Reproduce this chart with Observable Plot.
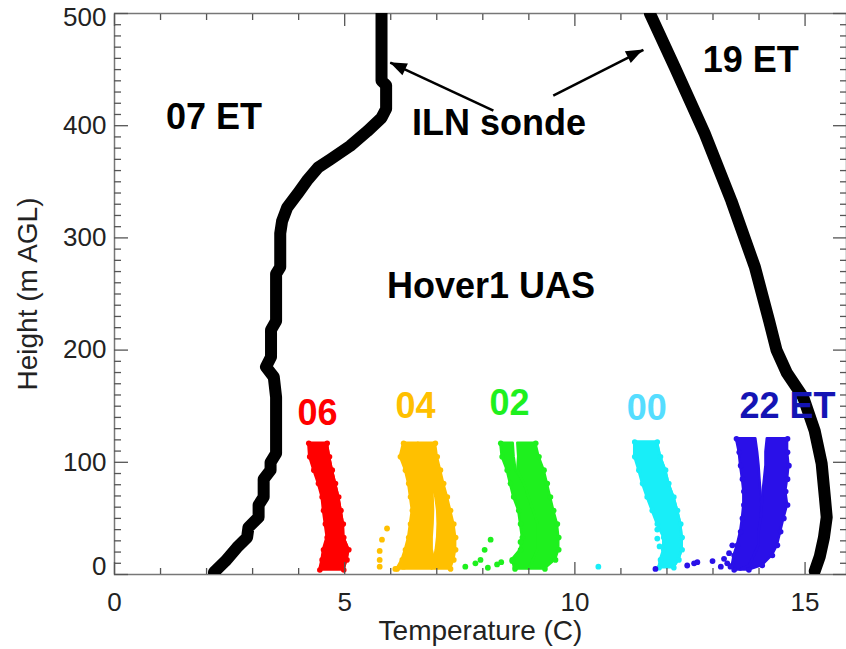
<!DOCTYPE html>
<html>
<head>
<meta charset="utf-8">
<script src="https://cdn.jsdelivr.net/npm/d3@7"></script>
<script src="https://cdn.jsdelivr.net/npm/@observablehq/plot@0.6"></script>
<style>
  body { margin: 0; background: #fff; }
  #chart svg { display: block; }
</style>
</head>
<body>
<div id="chart"></div>
<script>
// ---------- ILN sonde profiles: [height (m AGL), temperature (C)] ----------
const sonde07 = [
  [500, 5.80], [440, 5.80], [436, 5.90], [415, 5.90], [407, 5.80], [395, 5.49],
  [382, 5.12], [370, 4.69], [363, 4.43], [351, 4.18], [339, 3.97], [327, 3.75],
  [315, 3.64], [304, 3.60], [274, 3.60], [268, 3.51], [226, 3.51], [218, 3.40],
  [194, 3.40], [185, 3.29], [176, 3.46], [158, 3.51], [108, 3.51], [100, 3.39],
  [93, 3.39], [85, 3.24], [69, 3.24], [62, 3.13], [51, 3.13], [42, 2.91],
  [33, 2.88], [24, 2.66], [12, 2.41], [2, 2.16]
];
const sonde19 = [
  [500, 11.63], [452, 12.17], [393, 12.82], [333, 13.40], [274, 13.91],
  [226, 14.22], [200, 14.38], [180, 14.60], [158, 14.96], [128, 15.21], [99, 15.36],
  [69, 15.43], [51, 15.47], [33, 15.41], [16, 15.32], [3, 15.21]
];

// ---------- Hover1 UAS point clouds, outline per height ----------
// [height, left edge T, right edge T]  or  [height, left, gapLeft, gapRight, right]
const uas06 = [
  [117, 4.22, 4.62], [105, 4.24, 4.67], [93, 4.33, 4.73], [81, 4.43, 4.80],
  [69, 4.51, 4.87], [57, 4.54, 4.92], [45, 4.58, 4.97], [33, 4.62, 4.98],
  [22, 4.54, 5.09], [13, 4.51, 5.05], [4, 4.46, 4.98]
];
const uas04 = [
  [117, 6.28, 6.60, 6.60, 6.97], [105, 6.21, 6.60, 6.60, 7.01], [93, 6.32, 6.70, 6.70, 7.08],
  [81, 6.39, 6.90, 6.90, 7.15], [69, 6.43, 6.92, 6.98, 7.23], [57, 6.47, 6.93, 7.02, 7.30],
  [45, 6.43, 6.92, 7.03, 7.37], [33, 6.39, 6.90, 7.02, 7.41], [22, 6.32, 6.90, 6.99, 7.41],
  [13, 6.25, 6.95, 6.95, 7.37], [5, 6.14, 6.90, 6.90, 7.30]
];
const uas02 = [
  [117, 8.39, 8.66, 8.76, 9.15], [105, 8.42, 8.68, 8.78, 9.22], [93, 8.53, 8.72, 8.76, 9.33],
  [81, 8.60, 8.90, 8.90, 9.40], [69, 8.67, 9.00, 9.00, 9.47], [57, 8.78, 9.10, 9.10, 9.54],
  [45, 8.82, 9.20, 9.20, 9.62], [33, 8.86, 9.20, 9.20, 9.65], [22, 8.82, 9.20, 9.20, 9.65],
  [13, 8.64, 9.10, 9.10, 9.58], [5, 8.70, 9.00, 9.00, 9.35]
];
const uas00 = [
  [118, 11.30, 11.79], [105, 11.30, 11.86], [93, 11.39, 11.97], [81, 11.47, 12.04],
  [69, 11.57, 12.15], [57, 11.68, 12.23], [45, 11.79, 12.30], [33, 11.93, 12.33],
  [22, 11.93, 12.33], [13, 11.86, 12.26], [6, 11.83, 12.15]
];
const uas22 = [
  [121, 13.51, 13.93, 14.18, 14.62], [109, 13.57, 13.97, 14.15, 14.62], [97, 13.60, 14.00, 14.15, 14.65],
  [85, 13.64, 14.02, 14.12, 14.62], [74, 13.67, 14.04, 14.09, 14.58], [62, 13.67, 14.06, 14.07, 14.62],
  [50, 13.64, 14.05, 14.05, 14.54], [38, 13.60, 14.00, 14.00, 14.47], [26, 13.53, 14.00, 14.00, 14.40],
  [17, 13.46, 13.90, 13.90, 14.29], [8, 13.42, 13.80, 13.80, 14.07], [4, 13.46, 13.60, 13.60, 13.78]
];

// ---------- isolated UAS points: [temperature, height] ----------
const loose04 = [[5.92, 41], [5.81, 31], [5.76, 21], [5.76, 13], [5.76, 7], [6.10, 5], [6.28, 7]];
const loose02 = [[7.62, 7], [7.84, 10], [7.95, 13], [8.11, 6], [8.04, 22], [8.17, 31], [8.31, 9],
                 [8.40, 11], [8.64, 12], [8.82, 29], [8.71, 7]];
const loose00 = [[10.51, 7], [11.79, 40], [11.79, 32], [11.84, 25]];
const loose22 = [[11.75, 5], [12.44, 8], [12.59, 10], [12.66, 11], [12.99, 12], [13.17, 7],
                 [13.24, 14], [13.31, 10], [13.38, 7], [13.42, 26], [13.35, 19]];

// ---------- flight labels and colours ----------
const flightNames = ["06", "04", "02", "00", "22 ET"];
const flightDots = ["#ff0000", "#ffc000", "#1ef01e", "#18eef8", "#2a10e8"];
const flightText = ["#ff0000", "#ffc000", "#1ef01e", "#55ddff", "#1414b4"];

// ---------- ticks ----------
const xMajor = [0, 5, 10, 15];
const xMinor = [1, 2, 3, 4, 6, 7, 8, 9, 11, 12, 13, 14];
const yMajor = [0, 100, 200, 300, 400, 500];
const yMinor = [10, 20, 30, 40, 50, 60, 70, 80, 90, 110, 120, 130, 140, 150, 160, 170, 180, 190,
                210, 220, 230, 240, 250, 260, 270, 280, 290, 310, 320, 330, 340, 350, 360, 370, 380, 390,
                410, 420, 430, 440, 450, 460, 470, 480, 490];

// ---------- annotations (data coordinates) ----------
const notes = [
  {text: "07 ET", t: 2.16, z: 407.6, fill: "#000"},
  {text: "ILN sonde", t: 8.35, z: 401.8, fill: "#000"},
  {text: "19 ET", t: 13.82, z: 458.4, fill: "#000"},
  {text: "Hover1 UAS", t: 8.18, z: 256.5, fill: "#000"}
];
const flightLabelPos = [[4.41, 143.8], [6.54, 150.0], [8.58, 152.7], [11.56, 148.3], [14.62, 150.0]];
const arrows = [
  {t1: 8.23, z1: 413.4, t2: 5.99, z2: 456.2},
  {t1: 9.53, z1: 426.8, t2: 11.49, z2: 467.5}
];

// ---------- build ----------
const toRow = r => r.length === 3
  ? {z: r[0], lo: r[1], gL: r[2], gR: r[2], hi: r[2]}
  : {z: r[0], lo: r[1], gL: r[2], gR: r[3], hi: r[4]};
const clouds = [uas06, uas04, uas02, uas00, uas22].map(c => c.map(toRow));
const looses = [[], loose04, loose02, loose00, loose22];

const tickColor = "#555";
const marks = [];

marks.push(Plot.frame({stroke: "#777", strokeWidth: 1.5}));

// sonde profiles
for (const s of [sonde07, sonde19]) {
  marks.push(Plot.line(s, {x: d => d[1], y: d => d[0], stroke: "#000", strokeWidth: 12,
    strokeLinejoin: "round", strokeLinecap: "round", clip: true}));
}

// UAS clouds
clouds.forEach((rows, i) => {
  const c = flightDots[i];
  marks.push(Plot.areaX(rows, {y: "z", x1: "lo", x2: "gL", fill: c, stroke: c, strokeWidth: 2.5, strokeLinejoin: "round"}));
  marks.push(Plot.areaX(rows, {y: "z", x1: "gR", x2: "hi", fill: c, stroke: c, strokeWidth: 2.5, strokeLinejoin: "round"}));
  marks.push(Plot.dot(rows, {x: "lo", y: "z", r: 2.8, fill: c}));
  marks.push(Plot.dot(rows, {x: "hi", y: "z", r: 2.8, fill: c}));
  marks.push(Plot.dot(looses[i], {x: d => d[0], y: d => d[1], r: 2.9, fill: c}));
});

// annotations
marks.push(Plot.text(notes, {x: "t", y: "z", text: "text", fill: "fill", fontSize: 36, fontWeight: "bold"}));
marks.push(Plot.text(flightNames, {
  x: (d, i) => flightLabelPos[i][0], y: (d, i) => flightLabelPos[i][1], text: d => d,
  fill: (d, i) => flightText[i], fontSize: 36, fontWeight: "bold"
}));

// arrows: shaft + filled head placed through the scales
const headLen = 17, headHalf = 6.5;
marks.push(Plot.link(arrows, {x1: "t1", y1: "z1", x2: "t2", y2: "z2", stroke: "#000", strokeWidth: 2.5}));
marks.push((index, scales) => {
  const g = d3.create("svg:g");
  for (const a of arrows) {
    const X1 = scales.x(a.t1), Y1 = scales.y(a.z1), X2 = scales.x(a.t2), Y2 = scales.y(a.z2);
    const L = Math.hypot(X2 - X1, Y2 - Y1), ux = (X2 - X1) / L, uy = (Y2 - Y1) / L;
    const bx = X2 - ux * headLen, by = Y2 - uy * headLen;
    g.append("path")
      .attr("d", `M${X2},${Y2}L${bx - uy * headHalf},${by + ux * headHalf}L${bx + uy * headHalf},${by - ux * headHalf}Z`)
      .attr("fill", "#000");
  }
  return g.node();
});

// inward ticks
const tk = {fill: "none", label: null, stroke: tickColor, strokeWidth: 1.3};
marks.push(Plot.axisX({...tk, ticks: xMajor, anchor: "bottom", tickSize: -12}));
marks.push(Plot.axisX({...tk, ticks: xMinor, anchor: "bottom", tickSize: -6}));
marks.push(Plot.axisX({...tk, ticks: xMajor, anchor: "top", tickSize: -12}));
marks.push(Plot.axisX({...tk, ticks: xMinor, anchor: "top", tickSize: -6}));
marks.push(Plot.axisY({...tk, ticks: yMajor, anchor: "left", tickSize: -14}));
marks.push(Plot.axisY({...tk, ticks: yMinor, anchor: "left", tickSize: -7}));
marks.push(Plot.axisY({...tk, ticks: yMajor, anchor: "right", tickSize: -14}));
marks.push(Plot.axisY({...tk, ticks: yMinor, anchor: "right", tickSize: -7}));

// tick labels
const lab = {label: null, tickSize: 0, fontSize: 26, fill: "#222"};
marks.push(Plot.axisX({...lab, ticks: xMajor, anchor: "bottom", tickPadding: 18}));
marks.push(Plot.axisY({...lab, ticks: [100, 200, 300, 400], anchor: "left", tickPadding: 8}));
marks.push(Plot.axisY({...lab, ticks: [500], anchor: "left", tickPadding: 8, dy: 4}));
marks.push(Plot.axisY({...lab, ticks: [0], anchor: "left", tickPadding: 8, dy: -8}));

// axis titles
marks.push(Plot.text(["Temperature (C)"], {frameAnchor: "bottom", dy: 57, lineAnchor: "middle", textAnchor: "middle",
  text: d => d, fontSize: 28, fill: "#222"}));
marks.push(Plot.text(["Height (m AGL)"], {frameAnchor: "left", dx: -86, rotate: -90, lineAnchor: "middle", textAnchor: "middle",
  text: d => d, fontSize: 28, fill: "#222"}));

const chart = Plot.plot({
  width: 846,
  height: 649,
  marginLeft: 114,
  marginRight: 0,
  marginTop: 13,
  marginBottom: 75,
  x: {domain: [0, 15.9]},
  y: {domain: [0, 500]},
  style: {fontFamily: "'Liberation Sans', Arial, Helvetica, sans-serif", background: "#fff"},
  marks
});
document.getElementById("chart").appendChild(chart);
</script>
</body>
</html>
